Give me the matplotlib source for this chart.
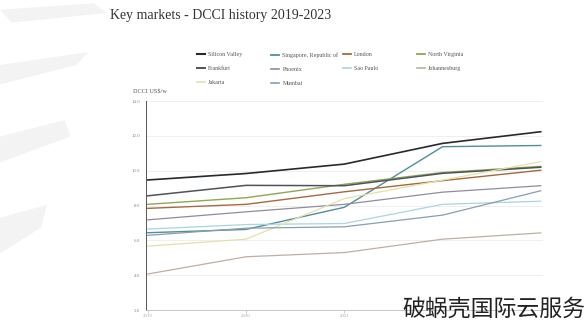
import matplotlib.pyplot as plt
from matplotlib.lines import Line2D
from matplotlib.patches import Polygon

# data
years = [2019, 2020, 2021, 2022, 2023]
year_labels = ["2019", "2020", "2021", "", ""]  # last two sit under the watermark

silicon_valley = [9.47, 9.84, 10.38, 11.57, 12.24]
singapore = [6.44, 6.63, 7.90, 11.38, 11.45]
london = [7.84, 8.07, 8.79, 9.43, 10.03]
north_virginia = [8.07, 8.45, 9.22, 9.90, 10.25]
frankfurt = [8.56, 9.16, 9.14, 9.85, 10.20]
phoenix = [7.18, 7.64, 8.07, 8.77, 9.14]
sao_paulo = [6.65, 6.91, 6.97, 8.07, 8.25]
johannesburg = [4.07, 5.06, 5.30, 6.07, 6.43]
jakarta = [5.67, 6.07, 8.40, 9.46, 10.52]
mumbai = [6.29, 6.70, 6.78, 7.45, 8.85]

names = ["Silicon Valley", "Singapore, Republic of", "London", "North Virginia",
         "Frankfurt", "Phoenix", "Sao Paulo", "Johannesburg", "Jakarta", "Mumbai"]
series = [silicon_valley, singapore, london, north_virginia, frankfurt,
          phoenix, sao_paulo, johannesburg, jakarta, mumbai]
colors = ["#262a2e", "#4f8e9c", "#a8683e", "#8ea655", "#4e5357",
          "#8f8ba3", "#a9d4e2", "#bdb0a3", "#e4e2a6", "#8a9db3"]
widths = [1.2, 1.0, 1.0, 1.0, 1.1, 0.9, 0.9, 0.9, 0.9, 0.9]

fig = plt.figure(figsize=(5.88, 3.25), dpi=100)
fig.patch.set_facecolor("white")

# faint brush streaks on the left edge
for pts in [[(0.0, 0.97), (0.16, 0.99), (0.18, 0.96), (0.02, 0.93)],
            [(0.0, 0.80), (0.15, 0.84), (0.13, 0.80), (0.0, 0.74)],
            [(0.0, 0.58), (0.11, 0.63), (0.12, 0.58), (0.0, 0.50)],
            [(0.0, 0.33), (0.08, 0.37), (0.07, 0.30), (0.0, 0.22)]]:
    fig.patches.append(Polygon(pts, closed=True, transform=fig.transFigure,
                               facecolor="#f3f3f3", edgecolor="none", zorder=0))

fig.text(0.187, 0.952, "Key markets - DCCI history 2019-2023", family="Liberation Serif",
         fontsize=10, color="#333333", va="center", ha="left")

ax = fig.add_axes([0.248, 0.046, 0.675, 0.643])
ax.patch.set_alpha(0)
for vals, c, w in zip(series, colors, widths):
    ax.plot(years, vals, color=c, lw=w)

ax.set_xlim(2018.98, 2023.02)
ax.set_ylim(2, 14)
ax.set_yticks([2, 4, 6, 8, 10, 12, 14])
ax.set_yticklabels(["%.1f" % v for v in [2, 4, 6, 8, 10, 12, 14]])
ax.set_xticks(years)
ax.set_xticklabels(year_labels)
ax.grid(axis="y", color="#ececec", lw=0.6)
ax.set_axisbelow(True)
for s in ["top", "right"]:
    ax.spines[s].set_visible(False)
ax.spines["left"].set_color("#555555")
ax.spines["left"].set_linewidth(0.7)
ax.spines["bottom"].set_color("#bbbbbb")
ax.spines["bottom"].set_linewidth(0.6)
ax.tick_params(axis="y", length=0, labelsize=3.5, labelcolor="#888888", pad=4)
ax.tick_params(axis="x", length=2, width=0.5, color="#bbbbbb", labelsize=3.5,
               labelcolor="#aaaaaa", pad=1)
for lbl in ax.get_xticklabels() + ax.get_yticklabels():
    lbl.set_family("Liberation Serif")

fig.text(0.226, 0.717, "DCCI US$/w", family="Liberation Serif", fontsize=4.5,
         color="#555555", va="center")

# legend laid out row by row in four fixed columns
col_x = [0.335, 0.461, 0.583, 0.709]
for col in range(4):
    idx = list(range(col, len(names), 4))
    handles = [Line2D([0], [0], color=colors[i], lw=widths[i] + 0.3) for i in idx]
    leg = fig.legend(handles, [names[i] for i in idx], loc="upper left",
                     bbox_to_anchor=(col_x[col], 0.840), frameon=False,
                     borderpad=0, borderaxespad=0, handlelength=1.3,
                     handletextpad=0.6, labelspacing=1.5,
                     prop={"family": "Liberation Serif", "size": 4.3})
    for t in leg.get_texts():
        t.set_color("#555555")

fig.text(0.995, 0.012, "破蜗壳国际云服务", family=["Noto Sans CJK SC", "DejaVu Sans"],
         fontsize=16.5, weight="light", color="#222222", ha="right", va="bottom")

fig.savefig("out.png", dpi=100)
